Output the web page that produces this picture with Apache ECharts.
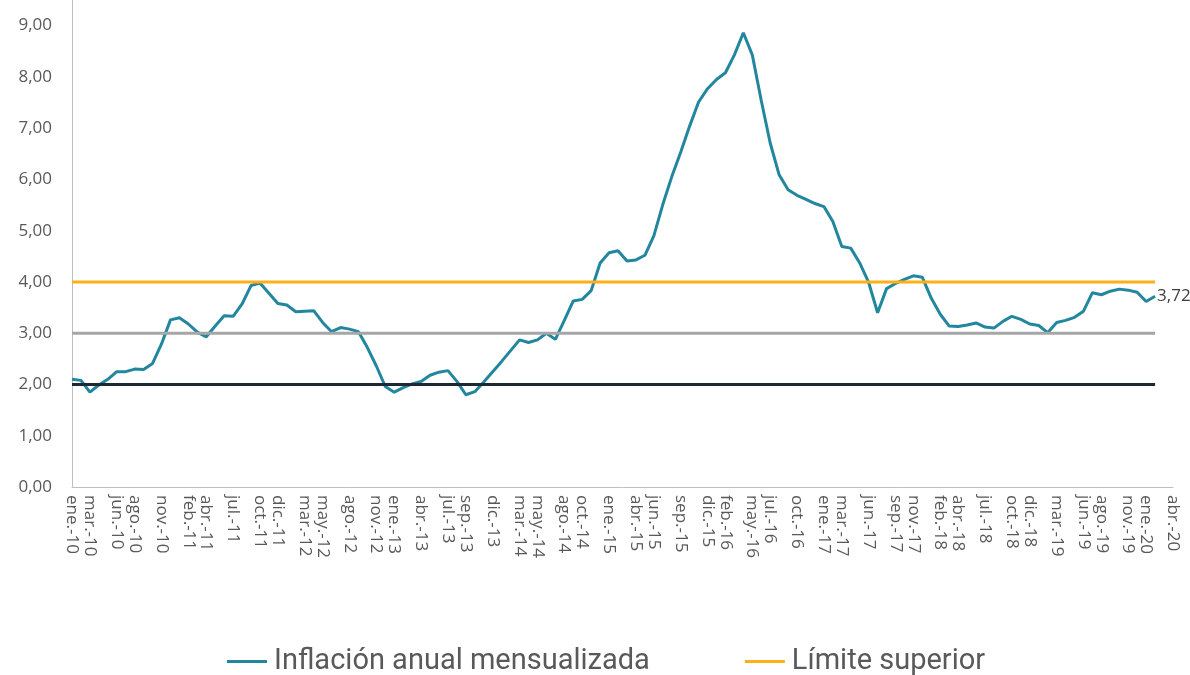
<!DOCTYPE html>
<html>
<head>
<meta charset="utf-8">
<script src="https://cdn.jsdelivr.net/npm/echarts@6/dist/echarts.min.js"></script>
<style>html,body{margin:0;padding:0;background:#fff}#c{width:1190px;height:675px}</style>
</head>
<body>
<div id="c"></div>
<script>
const monthNames = ['ene.','feb.','mar.','abr.','may.','jun.','jul.','ago.','sep.','oct.','nov.','dic.'];
const years = ['10','11','12','13','14','15','16','17','18','19','20'];
const lastCategory = 'abr.-20';

const tickLabels = ['ene.-10','mar.-10','jun.-10','ago.-10','nov.-10','feb.-11','abr.-11','jul.-11','oct.-11','dic.-11',
  'mar.-12','may.-12','ago.-12','nov.-12','ene.-13','abr.-13','jul.-13','sep.-13','dic.-13','mar.-14','may.-14',
  'ago.-14','oct.-14','ene.-15','abr.-15','jun.-15','sep.-15','dic.-15','feb.-16','may.-16','jul.-16','oct.-16',
  'ene.-17','mar.-17','jun.-17','sep.-17','nov.-17','feb.-18','abr.-18','jul.-18','oct.-18','dic.-18','mar.-19',
  'jun.-19','ago.-19','nov.-19','ene.-20','abr.-20'];

const inflacion = [
  2.10,2.08,1.85,1.99,2.10,2.25,2.25,2.30,2.29,2.41,2.79,3.26,
  3.30,3.18,3.02,2.93,3.14,3.34,3.33,3.57,3.93,3.98,3.78,3.58,
  3.55,3.42,3.43,3.44,3.21,3.03,3.11,3.08,3.03,2.72,2.36,1.96,
  1.85,1.94,2.01,2.06,2.18,2.24,2.27,2.06,1.80,1.86,2.05,2.25,
  2.45,2.66,2.87,2.82,2.87,3.00,2.88,3.25,3.63,3.66,3.83,4.37,
  4.57,4.61,4.41,4.43,4.52,4.90,5.51,6.05,6.53,7.04,7.51,7.77,
  7.95,8.08,8.43,8.86,8.43,7.54,6.71,6.09,5.80,5.69,5.61,5.53,
  5.47,5.18,4.69,4.66,4.37,3.99,3.40,3.87,3.97,4.05,4.12,4.09,
  3.68,3.37,3.14,3.13,3.16,3.20,3.12,3.10,3.23,3.33,3.27,3.18,
  3.15,3.01,3.21,3.25,3.31,3.43,3.79,3.75,3.82,3.86,3.84,3.80,
  3.62,3.72
];
const limiteSuperior = 4;
const meta = 3;
const limiteInferior = 2;

const categories = [];
outer: for (const y of years) {
  for (const m of monthNames) {
    const c = m + '-' + y;
    categories.push(c);
    if (c === lastCategory) break outer;
  }
}
const tickSet = new Set(tickLabels);
const firstCat = categories[0];
const lastDataCat = categories[inflacion.length - 1];
const fmt = v => v.toFixed(2).replace('.', ',');

const chart = echarts.init(document.getElementById('c'));
chart.setOption({
  animation: false,
  backgroundColor: '#ffffff',
  grid: { left: 72, right: 17, top: 0, bottom: 188, containLabel: false },
  legend: {
    data: ['Inflación anual mensualizada', 'Límite superior'],
    left: 222, top: 642,
    icon: 'rect',
    itemWidth: 40, itemHeight: 3, itemGap: 95,
    textStyle: { fontFamily: 'Roboto, sans-serif', fontSize: 29, color: '#595959', padding: [0, 0, 0, 2] }
  },
  xAxis: {
    type: 'category',
    data: categories,
    boundaryGap: false,
    axisLine: { lineStyle: { color: '#bfbfbf', width: 1 } },
    axisTick: { show: false },
    axisLabel: {
      interval: (idx, val) => tickSet.has(val),
      rotate: -90,
      margin: 8,
      fontFamily: 'Open Sans, sans-serif',
      fontSize: 17,
      color: '#595959'
    },
    splitLine: { show: false }
  },
  yAxis: {
    type: 'value',
    min: 0, max: 9.5, interval: 1,
    axisLine: { show: true, lineStyle: { color: '#bfbfbf', width: 1 } },
    axisTick: { show: false },
    splitLine: { show: false },
    axisLabel: {
      margin: 20,
      fontFamily: 'Open Sans, sans-serif',
      fontSize: 17,
      color: '#595959',
      formatter: v => (Math.abs(v - Math.round(v)) < 1e-9 ? fmt(v) : '')
    }
  },
  series: [
    {
      name: 'Inflación anual mensualizada',
      type: 'line',
      data: inflacion,
      symbol: 'none',
      z: 2,
      lineStyle: { color: '#21869e', width: 3 },
      itemStyle: { color: '#21869e' },
      endLabel: {
        show: true,
        formatter: p => fmt(p.value),
        fontFamily: 'Open Sans, sans-serif',
        fontSize: 17,
        color: '#404040',
        distance: 2
      }
    },
    {
      name: 'Límite superior',
      type: 'line',
      data: [[firstCat, limiteSuperior], [lastDataCat, limiteSuperior]],
      symbol: 'none',
      z: 3,
      lineStyle: { color: '#ffb018', width: 3 },
      itemStyle: { color: '#ffb018' }
    },
    {
      name: 'Meta',
      type: 'line',
      data: [[firstCat, meta], [lastDataCat, meta]],
      symbol: 'none',
      z: 3,
      lineStyle: { color: '#a6a6a6', width: 3 },
      itemStyle: { color: '#a6a6a6' }
    },
    {
      name: 'Límite inferior',
      type: 'line',
      data: [[firstCat, limiteInferior], [lastDataCat, limiteInferior]],
      symbol: 'none',
      z: 3,
      lineStyle: { color: '#1c2834', width: 3 },
      itemStyle: { color: '#1c2834' }
    }
  ]
});
</script>
</body>
</html>
